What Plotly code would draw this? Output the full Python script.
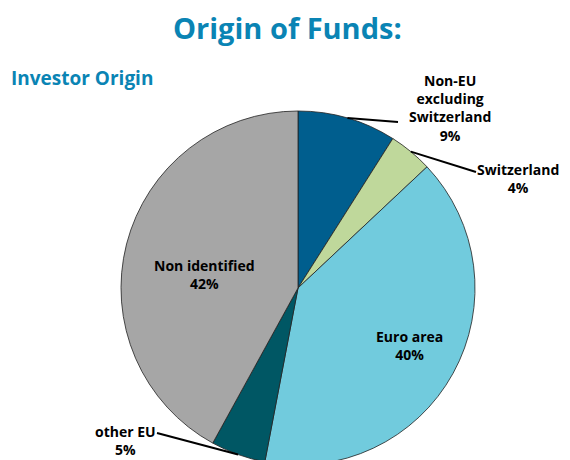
import numpy as np
import plotly.graph_objects as go

# data
labels = ["Non-EU<br>excluding<br>Switzerland", "Switzerland", "Euro area", "other EU", "Non identified"]
values = [9, 4, 40, 5, 42]
colors = ["#005e8e", "#bfd89b", "#71cbdd", "#005764", "#a6a6a6"]

W, H = 570, 460
OFF = 8  # page body margin

def px(x):
    return (x - OFF) / W

def py(y):
    return 1 - (y - OFF) / H

cx, cy, r = 298, 288, 177  # pie centre and radius, page pixels

fig = go.Figure(go.Pie(
    labels=labels, values=values, sort=False, direction="clockwise", rotation=0,
    marker=dict(colors=colors, line=dict(color="#222222", width=0.8)),
    textinfo="none", hoverinfo="label+percent", showlegend=False,
    domain=dict(x=[px(cx - r), px(cx + r)], y=[py(cy + r), py(cy - r)]),
))

# label positions (page pixels) and leader line ends, in data order
label_pos = [(450, 108), (518, 178), (409, 345), (125, 440), (204, 274)]
line_end = [(398, 122), (476, 172), None, (157, 433), None]

total = sum(values)
cum = 0
for i, v in enumerate(values):
    mid = (cum + v / 2) / total * 2 * np.pi
    cum += v
    tx, ty = label_pos[i]
    fig.add_annotation(x=px(tx), y=py(ty), xref="paper", yref="paper",
                       xanchor="center", yanchor="middle",
                       text="<b>%s<br>%d%%</b>" % (labels[i], v), showarrow=False,
                       font=dict(size=14, color="black", family="Open Sans"))
    if line_end[i] is not None:
        ex = cx + r * np.sin(mid)
        ey = cy - r * np.cos(mid)
        lx, ly = line_end[i]
        fig.add_shape(type="line", xref="paper", yref="paper",
                      x0=px(ex), y0=py(ey), x1=px(lx), y1=py(ly),
                      line=dict(color="black", width=2))

fig.add_annotation(x=px(287), y=py(28), xref="paper", yref="paper", showarrow=False,
                   xanchor="center", yanchor="middle",
                   text="<b>Origin of Funds:</b>", font=dict(size=29, color="#0a84b4", family="Open Sans"))
fig.add_annotation(x=px(9), y=py(78), xref="paper", yref="paper", showarrow=False,
                   xanchor="left", yanchor="middle",
                   text="<b>Investor Origin</b>", font=dict(size=19, color="#0a84b4", family="Open Sans"))

fig.update_layout(width=W, height=H, margin=dict(l=0, r=0, t=0, b=0),
                  paper_bgcolor="white", plot_bgcolor="white")

fig.write_html("out.html")
